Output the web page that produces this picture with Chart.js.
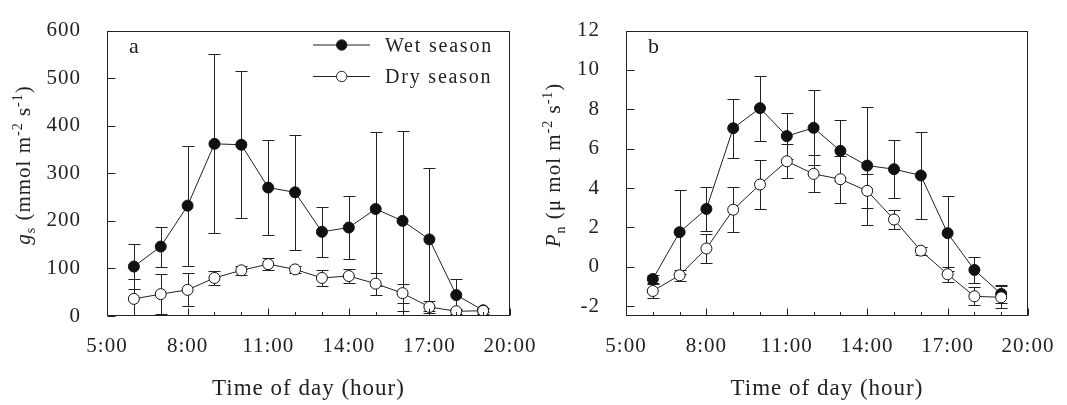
<!DOCTYPE html>
<html>
<head>
<meta charset="utf-8">
<script src="https://cdn.jsdelivr.net/npm/chart.js@4.4.1/dist/chart.umd.min.js"></script>
<style>
  body { margin: 0; background: #fff; }
  #wrap { position: relative; width: 1067px; height: 405px; overflow: hidden; }
  canvas { position: absolute; top: 0; }
</style>
</head>
<body>
<div id="wrap">
  <canvas id="grafikA" width="560" height="405" style="left:0px"></canvas>
  <canvas id="grafikB" width="547" height="405" style="left:520px"></canvas>
</div>
<script>
// values (mean and error bar half-length)
const hours = [6, 7, 8, 9, 10, 11, 12, 13, 14, 15, 16, 17, 18, 19];
const seriesNames = ['Wet season', 'Dry season'];

const gsWet = [104, 146, 232, 362, 360, 270, 260, 177, 186, 225, 200, 161, 44, 12];
const gsWetErr = [47, 42, 126, 188, 155, 100, 121, 53, 66, 161, 189, 150, 34, 4];
const gsDry = [36, 46, 55, 80, 96, 109, 98, 80, 84, 68, 48, 19, 10, 11];
const gsDryErr = [42, 42, 35, 15, 10, 12, 8, 16, 15, 23, 20, 12, 5, 6];

const pnWet = [-0.62, 1.76, 2.94, 7.04, 8.06, 6.64, 7.06, 5.89, 5.14, 4.96, 4.64, 1.71, -0.16, -1.38];
const pnWetErr = [0.2, 2.13, 1.1, 1.5, 1.65, 1.15, 1.9, 1.55, 3.0, 1.48, 2.2, 1.9, 0.67, 0.45];
const pnDry = [-1.23, -0.43, 0.93, 2.9, 4.18, 5.36, 4.72, 4.45, 3.86, 2.4, 0.82, -0.38, -1.5, -1.55];
const pnDryErr = [0.38, 0.29, 0.72, 1.13, 1.24, 0.86, 0.94, 1.2, 0.86, 0.48, 0.2, 0.39, 0.46, 0.55];

const xTickValues = [5, 8, 11, 14, 17, 20];
const xTickLabels = ['5:00', '8:00', '11:00', '14:00', '17:00', '20:00'];
const gsTickValues = [0, 100, 200, 300, 400, 500, 600];
const gsTickLabels = ['0', '100', '200', '300', '400', '500', '600'];
const pnTickValues = [-2, 0, 2, 4, 6, 8, 10, 12];
const pnTickLabels = ['-2', '0', '2', '4', '6', '8', '10', '12'];

const serif = "'Liberation Serif', 'Times New Roman', serif";
const ink = '#222';

// draws a label made of pieces (italic, sub, sup), centred on x,y
function drawRich(ctx, parts, x, y, rotate) {
  ctx.save();
  ctx.translate(x, y);
  if (rotate) ctx.rotate(-Math.PI / 2);
  ctx.letterSpacing = '1px';
  ctx.textBaseline = 'alphabetic';
  ctx.textAlign = 'left';
  ctx.fillStyle = ink;
  const fontOf = p => (p.italic ? 'italic ' : '') + (p.sub || p.sup ? 14 : 21) + 'px ' + serif;
  let total = 0;
  parts.forEach(p => { ctx.font = fontOf(p); p.w = ctx.measureText(p.t).width; total += p.w; });
  let cx = -total / 2;
  parts.forEach(p => {
    ctx.font = fontOf(p);
    ctx.fillText(p.t, cx, p.sub ? 5 : (p.sup ? -8 : 0));
    cx += p.w;
  });
  ctx.restore();
}

const panelPlugin = {
  id: 'panel',
  beforeDraw(chart) {
    chart.ctx.letterSpacing = '1px';
  },
  beforeDatasetsDraw(chart) {
    // error bars go under the lines and markers
    const {ctx, chartArea: a, scales: {x, y}} = chart;
    ctx.save();
    ctx.beginPath();
    ctx.rect(a.left, a.top, a.right - a.left, a.bottom - a.top);
    ctx.clip();
    ctx.strokeStyle = ink;
    ctx.lineWidth = 1;
    chart.data.datasets.forEach(ds => {
      ds.data.forEach((p, i) => {
        const e = ds.err[i];
        const px = Math.round(x.getPixelForValue(p.x)) + 0.5;
        const y1 = Math.round(y.getPixelForValue(p.y + e)) + 0.5;
        const y2 = Math.round(y.getPixelForValue(p.y - e)) + 0.5;
        ctx.beginPath();
        ctx.moveTo(px, y1); ctx.lineTo(px, y2);
        ctx.moveTo(px - 6, y1); ctx.lineTo(px + 6, y1);
        ctx.moveTo(px - 6, y2); ctx.lineTo(px + 6, y2);
        ctx.stroke();
      });
    });
    ctx.restore();
  },
  afterDraw(chart) {
    const {ctx, chartArea: a, scales: {x, y}} = chart;
    const cfg = chart.options.plugins.panel;
    ctx.save();
    ctx.strokeStyle = ink;
    ctx.lineWidth = 1;
    const L = Math.round(a.left) + 0.5, R = Math.round(a.right) - 0.5;
    const T = Math.round(a.top) + 0.5, B = Math.round(a.bottom) - 0.5;
    ctx.strokeRect(L, T, R - L, B - T);
    // inward ticks
    ctx.beginPath();
    for (let h = xTickValues[0]; h <= xTickValues[xTickValues.length - 1]; h++) {
      const px = Math.round(x.getPixelForValue(h)) + 0.5;
      const len = xTickValues.includes(h) ? 7 : 3.5;
      ctx.moveTo(px, B); ctx.lineTo(px, B - len);
    }
    cfg.yTicks.forEach(v => {
      const py = Math.round(y.getPixelForValue(v)) + 0.5;
      ctx.moveTo(L, py); ctx.lineTo(L + 8, py);
    });
    ctx.stroke();

    // panel letter
    ctx.letterSpacing = '1px';
    ctx.fillStyle = ink;
    ctx.font = '22px ' + serif;
    ctx.textBaseline = 'alphabetic';
    ctx.textAlign = 'left';
    ctx.fillText(cfg.letter, a.left + 22, 53);

    // legend
    if (cfg.legend) {
      const rows = [{y: 45, fill: '#111'}, {y: 76.5, fill: '#fff'}];
      ctx.font = '20px ' + serif;
      ctx.letterSpacing = '1.8px';
      rows.forEach((r, i) => {
        ctx.beginPath();
        ctx.moveTo(313, r.y); ctx.lineTo(370, r.y);
        ctx.stroke();
        ctx.beginPath();
        ctx.arc(341.7, r.y, 5.2, 0, Math.PI * 2);
        ctx.fillStyle = r.fill;
        ctx.fill();
        ctx.stroke();
        ctx.fillStyle = ink;
        ctx.fillText(seriesNames[i], 385, r.y + 6.5);
      });
    }
    ctx.restore();

    drawRich(ctx, cfg.yTitle, cfg.yTitleX, 165, true);
  }
};

function makeChart(id, opt) {
  const pts = vals => hours.map((h, i) => ({x: h, y: vals[i]}));
  const line = {
    borderColor: ink, borderWidth: 1, tension: 0,
    pointRadius: 5.5, pointBorderWidth: 1, pointBorderColor: '#111',
    pointHoverRadius: 5.5
  };
  return new Chart(document.getElementById(id), {
    type: 'line',
    data: {
      datasets: [
        Object.assign({label: seriesNames[0], data: pts(opt.wet), err: opt.wetErr, order: 1,
          pointBackgroundColor: '#111', backgroundColor: '#111'}, line),
        Object.assign({label: seriesNames[1], data: pts(opt.dry), err: opt.dryErr, order: 0,
          pointBackgroundColor: '#fff', backgroundColor: '#fff'}, line)
      ]
    },
    options: {
      responsive: false,
      animation: false,
      devicePixelRatio: 1,
      layout: {padding: {top: 14, right: opt.padRight, left: 0, bottom: 0}},
      plugins: {
        legend: {display: false},
        tooltip: {enabled: false},
        panel: opt
      },
      scales: {
        x: {
          type: 'linear', min: 5, max: 20,
          afterFit: s => { s.height = 89; },
          afterBuildTicks: s => { s.ticks = xTickValues.map(v => ({value: v})); },
          grid: {display: false},
          border: {display: false},
          ticks: {
            padding: 10, color: ink, maxRotation: 0, autoSkip: false,
            font: {family: serif, size: 21},
            callback: (v, i) => xTickLabels[i]
          },
          title: {
            display: true, text: 'Time of day (hour)', color: ink,
            font: {family: serif, size: 23},
            padding: {top: 0, bottom: 2}
          }
        },
        y: {
          type: 'linear', min: opt.yMin, max: opt.yMax,
          afterFit: s => { s.width = opt.yWidth; },
          afterBuildTicks: s => { s.ticks = opt.yTicks.map(v => ({value: v})); },
          grid: {display: false},
          border: {display: false},
          ticks: {
            padding: 18, color: ink, autoSkip: false,
            font: {family: serif, size: 21},
            callback: (v, i) => opt.yLabels[i]
          }
        }
      }
    },
    plugins: [panelPlugin]
  });
}

makeChart('grafikA', {
  wet: gsWet, wetErr: gsWetErr, dry: gsDry, dryErr: gsDryErr,
  yMin: 0, yMax: 600, yTicks: gsTickValues, yLabels: gsTickLabels,
  yWidth: 107, padRight: 50, letter: 'a', legend: true,
  yTitleX: 29.5,
  yTitle: [{t: 'g', italic: true}, {t: 's', sub: true}, {t: ' (mmol m'}, {t: '-2', sup: true},
           {t: ' s'}, {t: '-1', sup: true}, {t: ')'}]
});

makeChart('grafikB', {
  wet: pnWet, wetErr: pnWetErr, dry: pnDry, dryErr: pnDryErr,
  yMin: -2.5, yMax: 12, yTicks: pnTickValues, yLabels: pnTickLabels,
  yWidth: 106, padRight: 39, letter: 'b', legend: false,
  yTitleX: 39.5,
  yTitle: [{t: 'P', italic: true}, {t: 'n', sub: true}, {t: ' (\u03bc mol m'}, {t: '-2', sup: true},
           {t: ' s'}, {t: '-1', sup: true}, {t: ')'}]
});
</script>
</body>
</html>
